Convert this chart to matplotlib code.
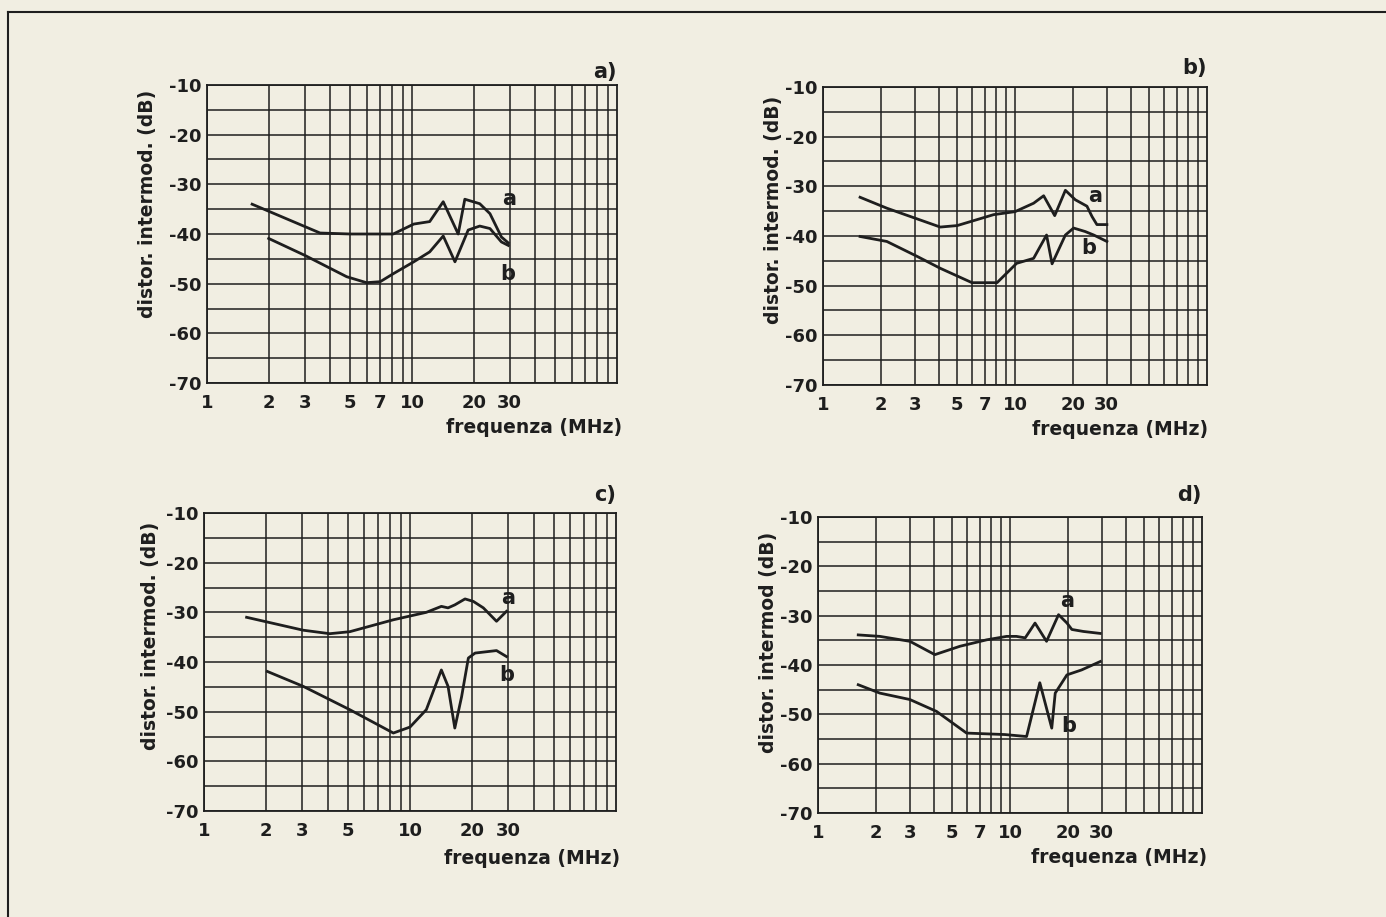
import matplotlib.pyplot as plt
from matplotlib.lines import Line2D

plt.rcParams['font.family'] = ['DejaVu Sans']
plt.rcParams['font.weight'] = 'bold'
plt.rcParams['axes.labelweight'] = 'bold'

paper = '#f1eee2'
ink = '#1e1e1e'

# panel a)
a_freq_a = [1.66, 3.56, 5.0, 8.1, 10.2, 12.2, 14.2, 16.8, 18.1, 21.4, 24.0, 27.3, 29.5]
a_db_a = [-34.0, -39.8, -40.0, -40.0, -38.0, -37.5, -33.5, -40.0, -33.0, -33.9, -35.9, -40.6, -41.8]
a_freq_b = [2.0, 3.0, 4.8, 6.0, 7.0, 8.1, 10.2, 12.2, 14.2, 16.2, 18.8, 21.4, 24.0, 27.3, 29.5]
a_db_b = [-40.9, -44.3, -48.6, -49.8, -49.6, -48.0, -45.6, -43.6, -40.4, -45.6, -39.2, -38.4, -38.9, -41.6, -42.3]

# panel b)
b_freq_a = [1.56, 2.15, 4.08, 5.0, 7.74, 10.0, 12.5, 14.1, 16.1, 18.3, 20.6, 23.7, 25.2, 26.7, 30.1]
b_db_a = [-32.2, -34.4, -38.2, -37.9, -35.7, -35.1, -33.4, -31.9, -35.9, -30.8, -32.7, -34.0, -36.1, -37.7, -37.7]
b_freq_b = [1.56, 2.15, 3.09, 4.08, 5.97, 8.06, 10.2, 12.5, 14.6, 15.6, 18.3, 20.2, 23.2, 25.7, 30.1]
b_db_b = [-40.1, -41.1, -44.1, -46.5, -49.4, -49.4, -45.5, -44.5, -39.8, -45.6, -39.8, -38.4, -39.1, -39.8, -41.1]

# panel c)
c_freq_a = [1.61, 3.03, 4.08, 5.1, 8.3, 12.0, 14.2, 15.3, 16.5, 18.5, 20.3, 22.7, 26.3, 29.4]
c_db_a = [-31.0, -33.6, -34.3, -33.9, -31.5, -30.0, -28.8, -29.1, -28.5, -27.3, -27.8, -29.1, -31.8, -29.8]
c_freq_b = [2.03, 3.03, 5.1, 8.3, 10.0, 12.0, 14.2, 15.3, 16.5, 17.8, 19.2, 20.7, 26.3, 29.4]
c_db_b = [-41.9, -44.9, -49.6, -54.3, -53.1, -49.6, -41.6, -44.9, -53.3, -47.0, -39.2, -38.2, -37.7, -38.9]

# panel d)
d_freq_a = [1.62, 2.1, 3.01, 4.06, 5.49, 7.55, 9.6, 10.8, 12.0, 13.5, 15.5, 17.9, 19.8, 21.0, 24.1, 29.5]
d_db_a = [-33.9, -34.2, -35.2, -37.9, -36.2, -34.9, -34.2, -34.2, -34.5, -31.5, -35.2, -29.8, -31.5, -32.8, -33.2, -33.6]
d_freq_b = [1.62, 2.1, 3.01, 4.14, 5.94, 9.42, 12.2, 14.3, 16.5, 17.2, 19.8, 23.6, 29.5]
d_db_b = [-44.0, -45.7, -47.0, -49.4, -53.8, -54.1, -54.5, -43.6, -52.8, -45.7, -42.0, -41.0, -39.3]

xticks_full = [1, 2, 3, 5, 7, 10, 20, 30]
xticks_c = [1, 2, 3, 5, 10, 20, 30]
yticks = [-70, -60, -50, -40, -30, -20, -10]
grid_x = [2, 3, 4, 5, 6, 7, 8, 9, 10, 20, 30, 40, 50, 60, 70, 80, 90]
grid_y = [-65, -55, -45, -35, -25, -15]

ylabel_dot = 'distor. intermod. (dB)'
ylabel_nodot = 'distor. intermod (dB)'

W, H = 1386, 917
fig = plt.figure(figsize=(W / 100, H / 100), dpi=100, facecolor=paper)

# pixel boxes (left, top, right, bottom) and label placement
panels = [
    ('a)', (207, 85, 617, 383), a_freq_a, a_db_a, a_freq_b, a_db_b, xticks_full, ylabel_dot,
     (-0.144, 0.60), (1.012, -0.148), (1.0, 1.044), (29.9, -33.0), (29.4, -48.0)),
    ('b)', (823, 87, 1207, 385), b_freq_a, b_db_a, b_freq_b, b_db_b, xticks_full, ylabel_dot,
     (-0.13, 0.587), (1.003, -0.148), (1.0, 1.064), (26.2, -32.0), (24.2, -42.5)),
    ('c)', (204, 513, 616, 811), c_freq_a, c_db_a, c_freq_b, c_db_b, xticks_c, ylabel_dot,
     (-0.13, 0.587), (1.01, -0.158), (1.0, 1.06), (29.9, -27.1), (29.4, -42.6)),
    ('d)', (818, 517, 1202, 813), d_freq_a, d_db_a, d_freq_b, d_db_b, xticks_full, ylabel_nodot,
     (-0.13, 0.578), (1.013, -0.15), (1.0, 1.074), (19.8, -27.1), (20.2, -52.4)),
]

for (tag, box, fa, da, fb, db, xt, ylab, ylpos, xlpos, tagpos, apos, bpos) in panels:
    l, t, r, b = box
    ax = fig.add_axes([l / W, 1 - b / H, (r - l) / W, (b - t) / H])
    ax.set_facecolor('none')
    ax.set_xscale('log')
    ax.set_xlim(1, 100)
    ax.set_ylim(-70, -10)

    ax.set_xticks(xt)
    ax.set_xticklabels([str(v) for v in xt])
    ax.set_xticks(grid_x, minor=True)
    ax.set_xticklabels([], minor=True)
    ax.set_yticks(yticks)
    ax.set_yticklabels(['-%d' % abs(v) for v in yticks])
    ax.set_yticks(grid_y, minor=True)
    ax.tick_params(which='both', length=0, colors=ink, labelsize=13)
    ax.tick_params(axis='x', pad=8)
    ax.tick_params(axis='y', pad=4)

    ax.grid(True, which='both', color=ink, lw=1.1)
    for s in ax.spines.values():
        s.set_color(ink)
        s.set_linewidth(1.3)

    ax.plot(fa, da, color=ink, lw=2.0, solid_joinstyle='round')
    ax.plot(fb, db, color=ink, lw=2.0, solid_joinstyle='round')
    ax.text(apos[0], apos[1], 'a', fontsize=15, color=ink, ha='center', va='center')
    ax.text(bpos[0], bpos[1], 'b', fontsize=15, color=ink, ha='center', va='center')

    ax.set_ylabel(ylab, fontsize=13.5, color=ink, va='center')
    ax.yaxis.set_label_coords(*ylpos)
    ax.set_xlabel('frequenza (MHz)', fontsize=13.5, color=ink, ha='right', va='center')
    ax.xaxis.set_label_coords(*xlpos)
    ax.text(tagpos[0], tagpos[1], tag, transform=ax.transAxes, fontsize=15,
            color=ink, ha='right', va='center')

# page frame from the scan
fig.add_artist(Line2D([8 / W, 1], [1 - 12 / H, 1 - 12 / H], color=ink, lw=1.5))
fig.add_artist(Line2D([8 / W, 8 / W], [0, 1 - 12 / H], color=ink, lw=1.5))

fig.savefig('out.png', dpi=100, facecolor=paper)
